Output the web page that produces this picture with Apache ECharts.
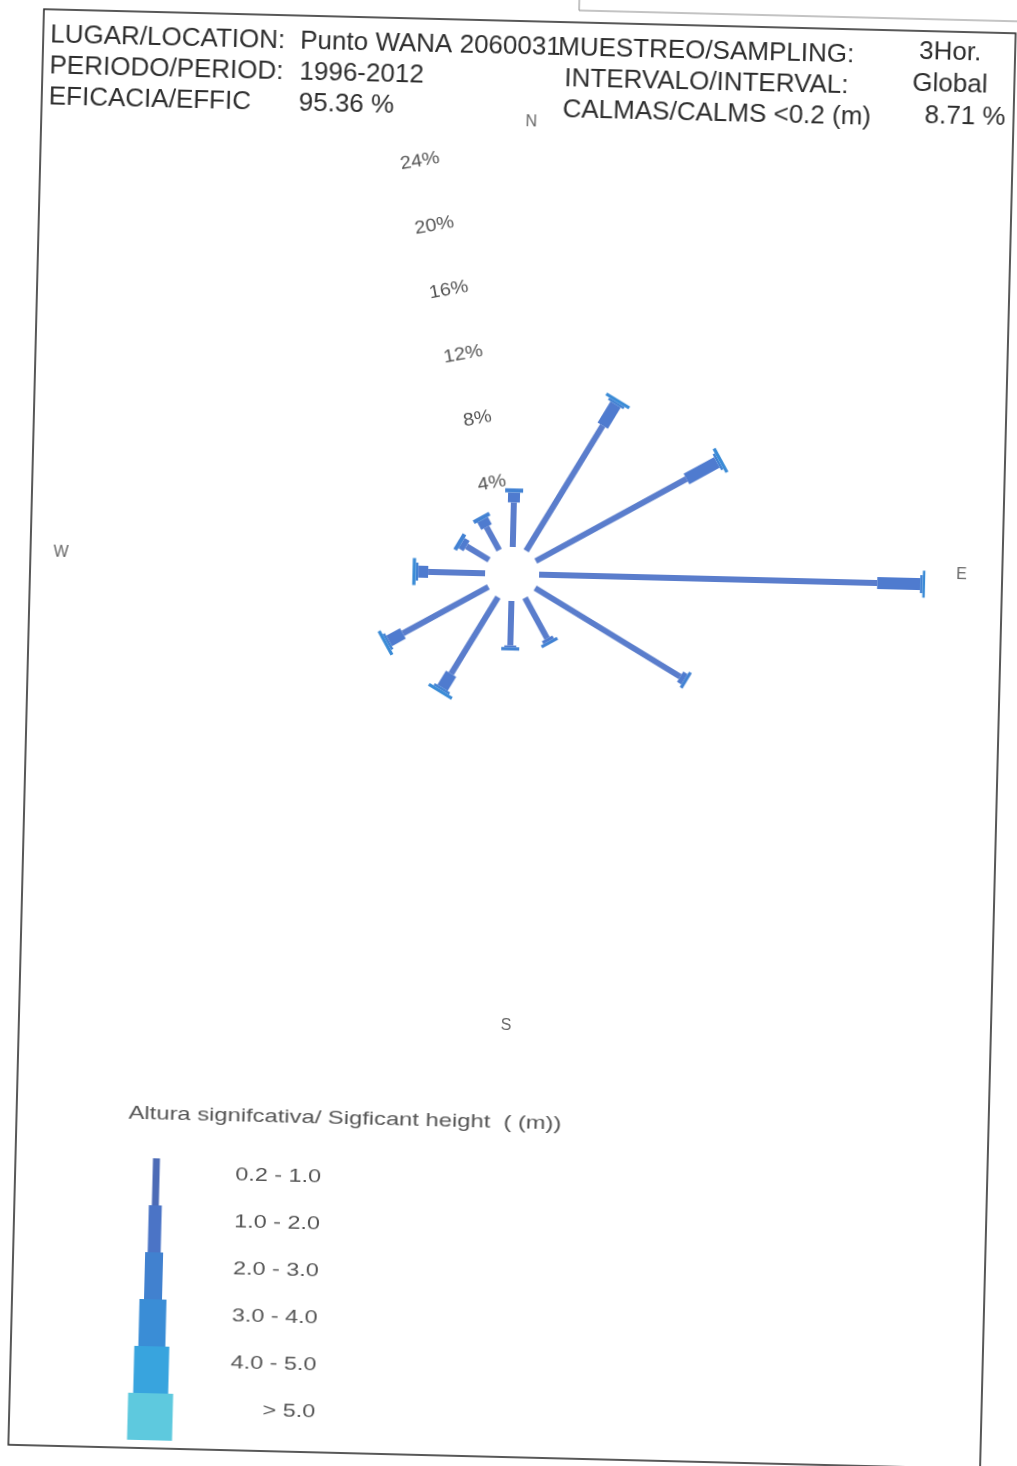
<!DOCTYPE html>
<html>
<head>
<meta charset="utf-8">
<script src="https://cdn.jsdelivr.net/npm/echarts@6/dist/echarts.min.js"></script>
<style>
  html, body { margin: 0; padding: 0; background: #fff; overflow: hidden; width: 1017px; height: 1466px; }
  /* the printed sheet sits slightly skewed on the page */
  #sheet { position: absolute; left: -12px; top: -19px; width: 1046px; height: 1516px; transform: rotate(1.42deg); }
</style>
</head>
<body>
<div id="sheet"></div>
<script>
// Wave directions (degrees clockwise from north)
const directions = [0, 30, 60, 90, 120, 150, 180, 210, 240, 270, 300, 330];

// Significant wave height classes
const heightClasses = ['0.2 - 1.0', '1.0 - 2.0', '2.0 - 3.0', '3.0 - 4.0', '4.0 - 5.0', '> 5.0'];

// Frequency (%) per direction for each height class
const hs_02_10 = [2.7, 8.9, 10.4, 20.5, 10.3, 2.8, 2.7, 5.45, 5.9, 3.45, 1.6, 1.6];
const hs_10_20 = [0.6, 1.5, 2.1, 2.6, 0.3, 0.2, 0.1, 1.0, 0.95, 0.6, 0.35, 0.5];
const hs_20_30 = [0.25, 0.15, 0.15, 0.15, 0.2, 0.2, 0.2, 0.15, 0.15, 0.15, 0.25, 0.25];
const hs_30_40 = [0, 0.2, 0.2, 0.15, 0, 0, 0, 0.2, 0.2, 0.2, 0, 0];
const hs_40_50 = [0, 0, 0, 0, 0, 0, 0, 0, 0, 0, 0, 0];
const hs_50_up = [0, 0, 0, 0, 0, 0, 0, 0, 0, 0, 0, 0];

// Ring tick labels (%)
const ringTicks = [4, 8, 12, 16, 20, 24];

// Compass labels on the angle axis
const compassLabels = { 0: 'N', 90: 'E', 180: 'S', 270: 'W' };

// Header block
const headerLeft = [
  ['LUGAR/LOCATION:', 'Punto WANA 2060031'],
  ['PERIODO/PERIOD:', '1996-2012'],
  ['EFICACIA/EFFIC', '95.36 %']
];
const headerRight = [
  ['MUESTREO/SAMPLING:', '3Hor.'],
  ['INTERVALO/INTERVAL:', 'Global'],
  ['CALMAS/CALMS <0.2 (m)', '8.71 %']
];
const legendTitle = 'Altura signifcativa/ Sigficant height  ( (m))';

// ---- styles ----
const classColors = ['#5a7dcc', '#4f7bcf', '#4282d3', '#3a8bd6', '#3ea6e0', '#5ccbe0'];
const legendColors = ['#4c6bb6', '#4b74c6', '#4181cf', '#3a8dd6', '#38a4de', '#5ec9de'];
const spokeWidths = [6, 12, 18, 27, 35, 45];
const legendWidths = [7, 13, 18, 27, 35, 45];
const FONT = '"Liberation Sans", Arial, Helvetica, sans-serif';

const classValues = [hs_02_10, hs_10_20, hs_20_30, hs_30_40, hs_40_50, hs_50_up];

// stacked radial segments: [start, end, direction, class]
const spokeData = [];
directions.forEach((dir, i) => {
  let start = 0;
  classValues.forEach((arr, k) => {
    const v = arr[i];
    if (v > 0) {
      spokeData.push([start, start + v, dir, k]);
      start += v;
    }
  });
});

const ringLabelAngle = 346;
const ringData = ringTicks.map(t => [t, ringLabelAngle]);

function renderSpoke(params, api) {
  const r0 = api.value(0), r1 = api.value(1), ang = api.value(2), cls = api.value(3);
  const p0 = api.coord([r0, ang]);
  const p1 = api.coord([r1, ang]);
  const dx = p1[0] - p0[0], dy = p1[1] - p0[1];
  const len = Math.hypot(dx, dy) || 1;
  const nx = -dy / len, ny = dx / len;
  const hw = spokeWidths[cls] / 2;
  return {
    type: 'polygon',
    shape: { points: [
      [p0[0] + nx * hw, p0[1] + ny * hw],
      [p1[0] + nx * hw, p1[1] + ny * hw],
      [p1[0] - nx * hw, p1[1] - ny * hw],
      [p0[0] - nx * hw, p0[1] - ny * hw]
    ] },
    style: { fill: classColors[cls] }
  };
}

function renderRingLabel(params, api) {
  const p = api.coord([api.value(0), api.value(1)]);
  return {
    type: 'text',
    x: p[0], y: p[1],
    rotation: 0.2,
    scaleX: 1.1,
    style: {
      text: api.value(0) + '%',
      fill: '#555', font: '18px ' + FONT,
      align: 'center', verticalAlign: 'middle'
    }
  };
}

// ---- header and legend graphics ----
const M = 40; // sheet margin around the frame
const graphics = [];
graphics.push({ type: 'rect', shape: { x: M - 2, y: M, width: 972, height: 1436 },
  style: { fill: null, stroke: '#222', lineWidth: 1.5 }, silent: true });
graphics.push({ type: 'polyline', shape: { points: [[M + 533, 0], [M + 533, M - 12], [1046, M - 12]] },
  style: { fill: null, stroke: '#888', lineWidth: 1 }, silent: true });

const rowY = [26, 57, 88];
const leftLabelX = [5, 5, 5];
const leftValueX = [255, 255, 255];
const rightLabelX = [513, 520, 519];
const rightValueX = [874, 868, 881];
const rightValueY = [21, 53, 85];
const headerStyle = { fill: '#2e2e2e', font: '26px ' + FONT, verticalAlign: 'middle', align: 'left' };
headerLeft.forEach((row, i) => {
  graphics.push({ type: 'text', x: M + leftLabelX[i], y: M + rowY[i], style: Object.assign({ text: row[0] }, headerStyle) });
  graphics.push({ type: 'text', x: M + leftValueX[i], y: M + rowY[i], style: Object.assign({ text: row[1] }, headerStyle) });
});
headerRight.forEach((row, i) => {
  graphics.push({ type: 'text', x: M + rightLabelX[i], y: M + rowY[i], style: Object.assign({ text: row[0] }, headerStyle) });
  graphics.push({ type: 'text', x: M + rightValueX[i], y: M + rightValueY[i], style: Object.assign({ text: row[1] }, headerStyle) });
});

// legend title
graphics.push({ type: 'text', x: M + 110, y: M + 1102, scaleX: 1.25,
  style: { text: legendTitle, fill: '#555', font: '19px ' + FONT, verticalAlign: 'middle', align: 'left' } });

// legend column: one stacked block per class, widening downward
const legendCx = M + 139;
const legendTop = M + 1146;
const legendStep = 47;
heightClasses.forEach((name, k) => {
  const w = legendWidths[k];
  graphics.push({ type: 'rect', shape: { x: legendCx - w / 2, y: legendTop + k * legendStep, width: w, height: legendStep },
    style: { fill: legendColors[k] }, silent: true });
  graphics.push({ type: 'text', x: M + 304, y: legendTop + 15 + k * legendStep, scaleX: 1.3,
    style: { text: name, fill: '#555', font: '18px ' + FONT, align: 'right', verticalAlign: 'middle' } });
});

const chart = echarts.init(document.getElementById('sheet'), null, { renderer: 'canvas' });
chart.setOption({
  backgroundColor: 'transparent',
  animation: false,
  polar: { center: [M + 480, M + 553], radius: [27, 423] },
  radiusAxis: { type: 'value', min: 0, max: 24, show: false },
  angleAxis: {
    type: 'value', min: 0, max: 360, interval: 90,
    startAngle: 90, clockwise: true,
    axisLine: { show: false }, axisTick: { show: false }, splitLine: { show: false },
    axisLabel: {
      show: true, margin: 21, color: '#666', fontSize: 16, fontFamily: FONT,
      formatter: v => {
        const t = compassLabels[v];
        if (!t) return '';
        return '{' + t.toLowerCase() + '|' + t + '}';
      },
      rich: {
        n: { padding: [0, 0, 0, 16], color: '#666', fontSize: 16, fontFamily: FONT },
        e: { padding: [0, 0, 20, 0], color: '#666', fontSize: 16, fontFamily: FONT },
        s: { padding: [0, 0, 0, 10], color: '#666', fontSize: 16, fontFamily: FONT },
        w: { padding: [0, 0, 20, 0], color: '#666', fontSize: 16, fontFamily: FONT }
      }
    }
  },
  series: [
    { type: 'custom', coordinateSystem: 'polar', renderItem: renderSpoke, data: spokeData, silent: true },
    { type: 'custom', coordinateSystem: 'polar', renderItem: renderRingLabel, data: ringData, silent: true }
  ],
  graphic: graphics
});
</script>
</body>
</html>
